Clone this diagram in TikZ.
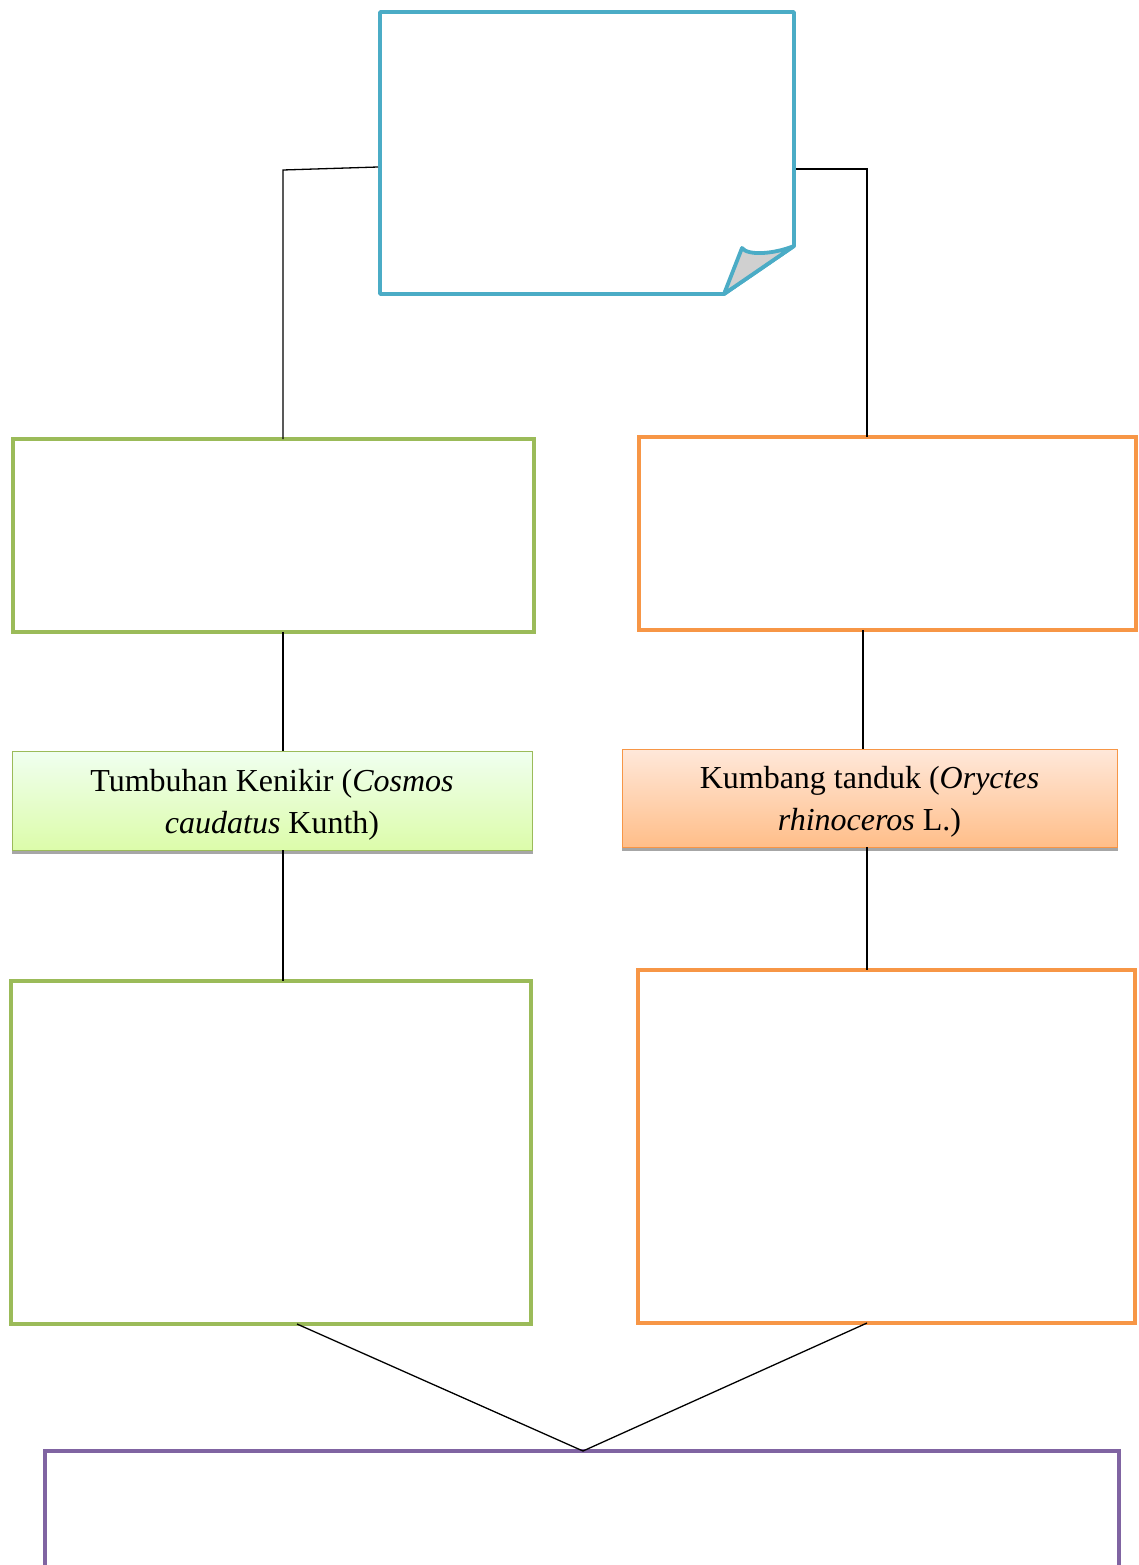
\documentclass[tikz,border=0pt]{standalone}
\usepackage{fontspec}
\setmainfont{Liberation Serif}
\usetikzlibrary{calc}
\definecolor{docblue}{HTML}{4BACC6}
\definecolor{lgreen}{HTML}{9BBB59}
\definecolor{lorange}{HTML}{F79646}
\definecolor{lpurple}{HTML}{8064A2}
\definecolor{foldgray}{HTML}{D0D0D0}
\newcommand{\topstrut}{\rule{0pt}{30pt}}
\begin{document}
\begin{tikzpicture}[x=1pt,y=-1pt,
  box/.style={draw, line width=3.8pt, inner sep=0pt, outer sep=0pt, fill=white},
  labelbox/.style={draw, line width=1pt, inner sep=0pt, outer sep=0pt, align=center,
    font=\fontsize{32}{42}\selectfont},
  conn/.style={draw=black, line width=1.3pt}]
\clip (0,0) rectangle (1138,1565);
\fill[white] (0,0) rectangle (1138,1565);
% top document shape
\node[inner sep=0pt, outer sep=0pt, minimum width=414pt, minimum height=282pt] (doc) at (587,153) {};
\draw[docblue, line width=3.8pt, fill=white, line join=round]
  (doc.north west) -- (doc.north east) -- ($(doc.south east)+(0,-48)$)
  -- ($(doc.south east)+(-70,0)$) -- (doc.south west) -- cycle;
\draw[docblue, line width=3.8pt, fill=foldgray, line join=round]
  ($(doc.south east)+(-70,0)$) -- ($(doc.south east)+(-52,-46)$)
  .. controls ($(doc.south east)+(-46,-38)$) and ($(doc.south east)+(-20,-40)$) .. ($(doc.south east)+(0,-48)$) -- cycle;
% boxes
\node[box, draw=lgreen, minimum width=521pt, minimum height=193pt] (g1) at (273.5,535.5) {};
\node[box, draw=lorange, minimum width=497pt, minimum height=193pt] (o1) at (887.5,533.5) {};
\node[box, draw=lgreen, minimum width=520pt, minimum height=343pt] (g2) at (271,1152.5) {};
\node[box, draw=lorange, minimum width=497pt, minimum height=353pt] (o2) at (886.5,1146.5) {};
\node[box, draw=lpurple, minimum width=1074pt, minimum height=170pt] (p) at (582,1536) {};
% label boxes with shadows
\fill[gray!70] (12,754) rectangle (533,853.5);
\fill[gray!70] (622,751) rectangle (1118,850.5);
\node[labelbox, draw=lgreen, top color=green!6!white, bottom color={rgb,255:red,220;green,252;blue,170},
  minimum width=520pt, minimum height=99pt] (gl) at (272,800.5)
  {\topstrut Tumbuhan Kenikir (\textit{Cosmos}\\\textit{caudatus} Kunth)};
\node[labelbox, draw=lorange, top color={rgb,255:red,255;green,232;blue,218}, bottom color={rgb,255:red,255;green,190;blue,137},
  minimum width=495pt, minimum height=98pt] (ol) at (869.5,798)
  {\topstrut Kumbang tanduk (\textit{Oryctes}\\\textit{rhinoceros} L.)};
% connectors
\coordinate (lk) at (283,170);
\coordinate (rk) at (867,169);
\coordinate (mid) at (583,1451);
\draw[conn] ($(doc.west)+(-2,14)$) -- (lk) -- (lk |- g1.north);
\draw[conn] ($(doc.east)+(2,16)$) -- (rk) -- (rk |- o1.north);
\draw[conn] (g1.south -| lk) -- (lk |- gl.north);
\draw[conn] ($(o1.south)+(-24.5,0)$) -- ($(ol.north)+(-6.5,0)$);
\draw[conn] (gl.south -| lk) -- (lk |- g2.north);
\draw[conn] (ol.south -| rk) -- (rk |- o2.north);
\draw[conn] ($(g2.south)+(26,0)$) -- (mid);
\draw[conn] ($(o2.south)+(-19.5,0)$) -- (mid);
\end{tikzpicture}
\end{document}
